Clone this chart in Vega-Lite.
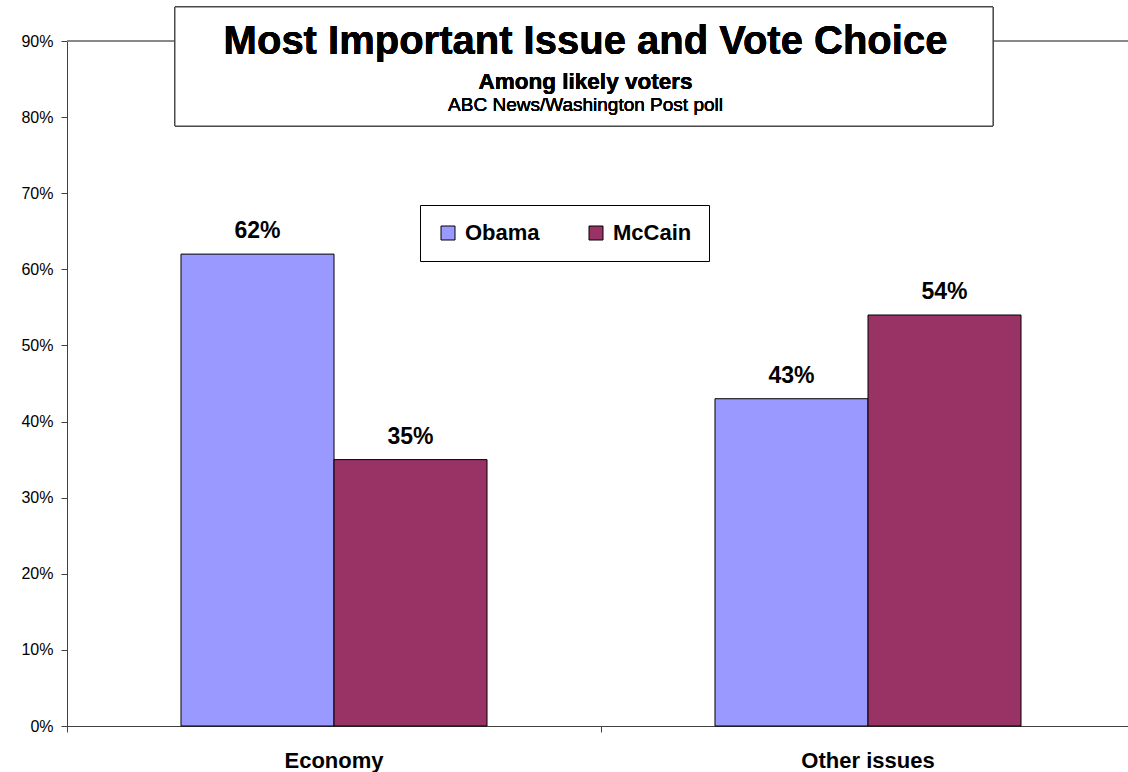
{
  "$schema": "https://vega.github.io/schema/vega-lite/v6.json",
  "width": 1068,
  "height": 685,
  "autosize": "none",
  "padding": {"left": 67, "top": 41, "right": 0, "bottom": 46},
  "background": "white",
  "config": {"view": {"stroke": null}, "font": "Liberation Sans"},
  "data": {"values": [
    {"issue": "Economy", "candidate": "Obama", "share": 0.62},
    {"issue": "Economy", "candidate": "McCain", "share": 0.35},
    {"issue": "Other issues", "candidate": "Obama", "share": 0.43},
    {"issue": "Other issues", "candidate": "McCain", "share": 0.54}
  ]},
  "layer": [
    {
      "encoding": {
        "x": {"field": "issue", "type": "nominal", "sort": ["Economy", "Other issues"],
          "scale": {"paddingInner": 0, "paddingOuter": 0},
          "axis": {"title": null, "labelAngle": 0, "bandPosition": 0,
            "labelFontSize": 22, "labelFontWeight": "bold", "labelColor": "black", "labelBaseline": "alphabetic",
            "labelPadding": 35, "tickSize": 6, "tickColor": "#404040", "domainColor": "#404040"}},
        "xOffset": {"field": "candidate", "type": "nominal", "sort": ["Obama", "McCain"],
          "scale": {"paddingInner": 0, "paddingOuter": 0.745}},
        "y": {"field": "share", "type": "quantitative",
          "scale": {"domain": [0, 0.9], "nice": false, "zero": true},
          "axis": {"title": null, "format": ".0%", "values": [0, 0.1, 0.2, 0.3, 0.4, 0.5, 0.6, 0.7, 0.8, 0.9],
            "grid": false, "labelFontSize": 16, "labelColor": "black", "labelPadding": 8,
            "tickSize": 6, "tickColor": "#404040", "domainColor": "#404040"}}
      },
      "layer": [
        {
          "mark": {"type": "bar", "stroke": "black", "strokeWidth": 1, "opacity": 1},
          "encoding": {
            "color": {"field": "candidate", "type": "nominal",
              "scale": {"domain": ["Obama", "McCain"], "range": ["#9999FF", "#993366"]},
              "legend": {"title": null, "orient": "none", "legendX": 353, "legendY": 164,
                "direction": "horizontal", "strokeColor": "black", "fillColor": "white",
                "padding": 17, "labelFontSize": 22, "labelFontWeight": "bold", "labelColor": "black",
                "symbolType": "square", "symbolSize": 196, "symbolStrokeColor": "black",
                "symbolStrokeWidth": 1, "symbolOpacity": 1, "columnPadding": 45, "labelOffset": 6}}
          }
        },
        {
          "mark": {"type": "text", "baseline": "alphabetic", "dy": -16, "fontSize": 23, "fontWeight": "bold", "color": "black"},
          "encoding": {"text": {"field": "share", "type": "quantitative", "format": ".0%"}}
        },
        {
          "mark": {"type": "rule", "color": "#808080", "strokeWidth": 1},
          "encoding": {"y": {"datum": 0.9}, "x": null, "xOffset": null}
        }
      ]
    },
    {
      "layer": [
        {
          "mark": {"type": "rect", "fill": "white", "stroke": "#404040", "strokeWidth": 1},
          "encoding": {
            "x": {"datum": 0.1011, "type": "quantitative", "scale": {"domain": [0, 1], "nice": false, "zero": false}, "axis": null},
            "x2": {"datum": 0.867},
            "y": {"datum": 0.9447, "type": "quantitative", "scale": {"domain": [0, 0.9], "nice": false}},
            "y2": {"datum": 0.7883}
          }
        },
        {
          "mark": {"type": "text", "text": "Most Important Issue and Vote Choice", "fontSize": 40, "fontWeight": "bold", "color": "black", "baseline": "alphabetic", "align": "center"},
          "encoding": {
            "x": {"datum": 0.4855, "type": "quantitative", "scale": {"domain": [0, 1], "nice": false, "zero": false}, "axis": null},
            "y": {"datum": 0.8829, "type": "quantitative"}
          }
        },
        {
          "mark": {"type": "text", "text": "Among likely voters", "fontSize": 22.5, "fontWeight": "bold", "color": "black", "baseline": "alphabetic", "align": "center"},
          "encoding": {
            "x": {"datum": 0.4855, "type": "quantitative", "scale": {"domain": [0, 1], "nice": false, "zero": false}, "axis": null},
            "y": {"datum": 0.837, "type": "quantitative"}
          }
        },
        {
          "mark": {"type": "text", "text": "ABC News/Washington Post poll", "fontSize": 19, "color": "black", "baseline": "alphabetic", "align": "center"},
          "encoding": {
            "x": {"datum": 0.4855, "type": "quantitative", "scale": {"domain": [0, 1], "nice": false, "zero": false}, "axis": null},
            "y": {"datum": 0.8081, "type": "quantitative"}
          }
        }
      ]
    }
  ],
  "resolve": {"scale": {"x": "independent"}, "axis": {"x": "independent"}}
}
